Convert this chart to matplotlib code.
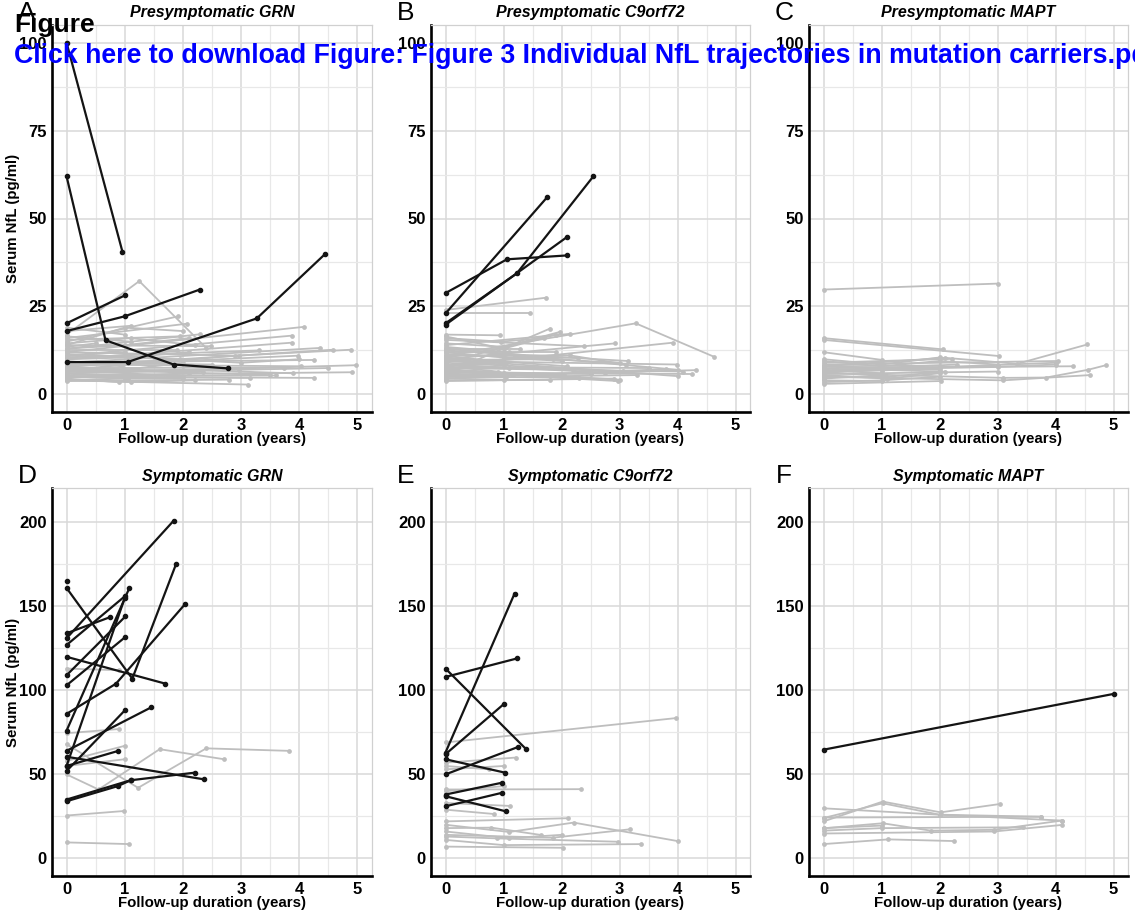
import matplotlib.pyplot as plt
from matplotlib.ticker import MultipleLocator

plt.rcParams['font.family'] = ['Liberation Sans', 'DejaVu Sans']

W, H = 1135, 918
GREY = "#bebebe"
DARK = "#141414"

# each trajectory: list of (follow-up years, serum NfL pg/ml)
grn_pre_dark = [
    [(0, 100), (0.96, 40.6)],
    [(0, 62), (0.67, 15.4), (1.84, 8.5), (2.77, 7.4)],
    [(0, 20.2), (1.01, 28.2)],
    [(0, 18), (1.0, 22.2), (2.29, 29.8)],
    [(0, 9.2), (1.05, 9.2), (3.27, 21.6), (4.45, 40)],
]
grn_pre_grey = [
    [(0, 17), (1.25, 32.2), (2.4, 13.2)],
    [(0, 15), (1.92, 22.2)],
    [(0, 16), (2.07, 20.1)],
    [(0, 14), (1.0, 19), (2.0, 18)],
    [(0, 13), (2.3, 17.1)],
    [(0, 12), (4.08, 19.2)],
    [(0, 11), (3.87, 16.7)],
    [(0, 10), (3.87, 14.7)],
    [(0, 9), (4.35, 13.2)],
    [(0, 8), (4.58, 12.7)],
    [(0, 7), (2.9, 11), (4.89, 12.7)],
    [(0, 6), (4.98, 8.3)],
    [(0, 5.5), (4.91, 6.3)],
    [(0, 5), (4.26, 4.7)],
    [(0, 4), (3.12, 2.8)],
    [(0, 5), (3.15, 4.7)],
    [(0, 12), (2.97, 11)],
    [(0, 9), (4.26, 9.8)],
    [(0, 8.5), (4.03, 8)],
    [(0, 7.5), (3.74, 7.6)],
    [(0, 14), (2.49, 13.7)],
    [(0, 19), (1.0, 17)],
    [(0, 18), (1.1, 19.5)],
    [(0, 16.5), (1.1, 15)],
    [(0, 13), (1.0, 14), (2.1, 16)],
    [(0, 11), (1.0, 12)],
    [(0, 10), (1.05, 10.5), (2.1, 12)],
    [(0, 9.5), (0.95, 8)],
    [(0, 8), (1.0, 7), (2.0, 9)],
    [(0, 7), (1.0, 6.5)],
    [(0, 6), (1.0, 5), (2.1, 6)],
    [(0, 5), (1.05, 4.5)],
    [(0, 4.5), (0.9, 3.5)],
    [(0, 4), (1.0, 4.5), (2.0, 4.5)],
    [(0, 3.8), (2.8, 4.2)],
    [(0, 11.5), (3.0, 9), (4.0, 10)],
    [(0, 6.5), (2.0, 7), (3.9, 6)],
    [(0, 7.2), (3.5, 5.5)],
    [(0, 9), (2.5, 8.5)],
    [(0, 12.5), (1.9, 12.5)],
    [(0, 15.5), (1.95, 16.5)],
    [(0, 6), (2.97, 7), (4.5, 7.5)],
    [(0, 5.2), (3.6, 5.4)],
    [(0, 10.5), (3.3, 12.5)],
    [(0, 8), (3.97, 11)],
    [(0, 13.5), (0.5, 14.5)],
    [(0, 11), (1.95, 10)],
    [(0, 9), (1.5, 9.5)],
    [(0, 7.5), (2.35, 6.5)],
    [(0, 6.8), (1.05, 6), (2.0, 5)],
    [(0, 14.5), (1.1, 16), (2.2, 14)],
    [(0, 4.2), (1.1, 3.5), (2.2, 4)],
]

c9_pre_dark = [
    [(0, 23), (1.75, 56)],
    [(0, 20.2), (1.23, 34.4), (2.55, 62)],
    [(0, 19.8), (2.1, 44.8)],
    [(0, 28.8), (1.06, 38.4), (2.09, 39.5)],
]
c9_pre_grey = [
    [(0, 24), (1.74, 27.5)],
    [(0, 23), (1.45, 23)],
    [(0, 11), (3.28, 20.2), (4.63, 10.7)],
    [(0, 8), (3.92, 14.7)],
    [(0, 10), (2.92, 14.5)],
    [(0, 6), (1.8, 18.7)],
    [(0, 9), (1.98, 17.8)],
    [(0, 14), (2.14, 17.2)],
    [(0, 17), (0.94, 16.8)],
    [(0, 16.5), (1.0, 13), (1.9, 17)],
    [(0, 15.5), (2.38, 13.7)],
    [(0, 13), (1.29, 13)],
    [(0, 12), (1.9, 12)],
    [(0, 7), (1.2, 10.7), (2.28, 10.4)],
    [(0, 12.5), (3.14, 9.5)],
    [(0, 11), (2.14, 11.1), (3.12, 8.5)],
    [(0, 9.5), (3.99, 8.5)],
    [(0, 5), (4.32, 6.9)],
    [(0, 7.5), (4.1, 6.5)],
    [(0, 10), (4.0, 5.2)],
    [(0, 6.5), (2.97, 3.8)],
    [(0, 8.5), (2.75, 6.2)],
    [(0, 4), (1.8, 4.1)],
    [(0, 5.5), (1.17, 5.4)],
    [(0, 9), (3.06, 6.6)],
    [(0, 4.5), (3.8, 7.2)],
    [(0, 16), (0.95, 15), (1.7, 16)],
    [(0, 14.5), (1.05, 13.5)],
    [(0, 13.5), (1.1, 12)],
    [(0, 12), (1.0, 10.5), (2.0, 9.5)],
    [(0, 11), (1.05, 9)],
    [(0, 10.5), (2.1, 8)],
    [(0, 9.5), (1.0, 8.5)],
    [(0, 8.5), (1.1, 7.5), (2.2, 7)],
    [(0, 8), (0.9, 6.5)],
    [(0, 7), (1.0, 6), (2.05, 5.5)],
    [(0, 6.5), (2.5, 5.8)],
    [(0, 6), (1.05, 5)],
    [(0, 5), (2.3, 4.8)],
    [(0, 4.5), (1.0, 4.2)],
    [(0, 3.8), (2.9, 4.5)],
    [(0, 7.8), (3.5, 7.5)],
    [(0, 9.8), (1.85, 10)],
    [(0, 11.5), (3.0, 9)],
    [(0, 5.8), (2.0, 5.2), (3.3, 5.5)],
    [(0, 7.2), (3.0, 4.2)],
    [(0, 13), (4.0, 7)],
    [(0, 6.2), (4.25, 5.8)],
]

mapt_pre_dark = []
mapt_pre_grey = [
    [(0, 29.8), (3.01, 31.5)],
    [(0, 16), (2.06, 12.8)],
    [(0, 15.5), (3.03, 10.9)],
    [(0, 12), (1.01, 9.8)],
    [(0, 10), (1.0, 8.5), (2.0, 10.5)],
    [(0, 8), (2.1, 10.4), (3.34, 8.7), (4.55, 14.2)],
    [(0, 9), (2.22, 10.1)],
    [(0, 6), (3.1, 4.7), (3.84, 4.8), (4.56, 7.0), (4.87, 8.3)],
    [(0, 5), (3.1, 4.0), (4.6, 5.5)],
    [(0, 7.5), (4.3, 8)],
    [(0, 8.5), (4.04, 9.5)],
    [(0, 6.5), (4.0, 9.0)],
    [(0, 9.5), (1.0, 8.0), (2.0, 9.5), (3.0, 8.5)],
    [(0, 3), (2.02, 3.8)],
    [(0, 4), (1.01, 3.8)],
    [(0, 5.5), (1.1, 4.5), (2.0, 6)],
    [(0, 6), (1.0, 7.5), (2.0, 7)],
    [(0, 7), (1.0, 6)],
    [(0, 4.5), (1.05, 5.5)],
    [(0, 5), (1.1, 5), (2.1, 6.5)],
    [(0, 6.8), (2.3, 8.5)],
    [(0, 8), (2.0, 8.2)],
    [(0, 5.8), (3.0, 6.5)],
    [(0, 6.3), (1.0, 6.8), (2.0, 7.5), (3.0, 7.8), (4.0, 8.5)],
    [(0, 3.5), (1.0, 4), (2.0, 5)],
    [(0, 7.3), (1.0, 7), (2.0, 6.5)],
]

grn_sym_dark = [
    [(0, 161), (1.13, 107), (1.88, 175)],
    [(0, 131), (1.84, 201)],
    [(0, 134), (0.74, 143.5)],
    [(0, 120), (1.7, 104)],
    [(0, 86), (0.85, 104), (2.04, 151.5)],
    [(0, 60.5), (2.37, 47)],
    [(0, 34), (0.88, 43), (1.1, 46.5), (2.2, 51)],
    [(0, 35), (1.1, 46.5)],
    [(0, 127), (1.0, 156)],
    [(0, 109), (1.01, 144)],
    [(0, 103), (1.0, 131.5)],
    [(0, 76), (1.08, 161)],
    [(0, 55), (1.0, 155)],
    [(0, 64), (1.46, 90)],
    [(0, 52), (1.01, 88.4)],
    [(0, 55), (0.89, 64)],
    [(0, 165)],
]
grn_sym_grey = [
    [(0, 113), (0.9, 112)],
    [(0, 74.5), (0.9, 77)],
    [(0, 68), (1.23, 42), (2.4, 65.5), (3.83, 64)],
    [(0, 50), (0.55, 41), (1.6, 65), (2.71, 59)],
    [(0, 58), (1.0, 67)],
    [(0, 55), (1.0, 59)],
    [(0, 25.5), (0.99, 28.2)],
    [(0, 9.5), (1.08, 8.5)],
]

c9_sym_dark = [
    [(0, 63), (1.19, 157.6)],
    [(0, 108), (1.23, 119)],
    [(0, 113), (1.39, 65)],
    [(0, 62), (1.01, 92)],
    [(0, 50), (1.25, 66.3)],
    [(0, 59), (1.03, 51)],
    [(0, 38), (0.97, 45)],
    [(0, 31), (0.97, 39)],
    [(0, 37), (1.04, 28)],
]
c9_sym_grey = [
    [(0, 69), (3.97, 83.5)],
    [(0, 57), (1.21, 60)],
    [(0, 55), (0.75, 53)],
    [(0, 53), (1.0, 55)],
    [(0, 41), (2.34, 41.2)],
    [(0, 40), (1.0, 43)],
    [(0, 33), (1.12, 31.2)],
    [(0, 29), (0.84, 26.4)],
    [(0, 22), (2.11, 23.9)],
    [(0, 20), (1.1, 15.7), (2.21, 21.3), (4.0, 10.3)],
    [(0, 18), (0.79, 18.3), (1.65, 13.9)],
    [(0, 14), (1.85, 12.3), (3.18, 17.3)],
    [(0, 13), (0.88, 11.9), (2.97, 9.9)],
    [(0, 11), (1.0, 7.9), (3.37, 8.5)],
    [(0, 7), (2.02, 6.3)],
    [(0, 16), (1.1, 12), (2.0, 14)],
]

mapt_sym_dark = [
    [(0, 64.7), (5.0, 97.9)],
]
mapt_sym_grey = [
    [(0, 29.8), (2.0, 26), (3.75, 24.8)],
    [(0, 22), (1.02, 33.8), (2.02, 27.4), (3.05, 32.4)],
    [(0, 24), (1.02, 32.8), (2.0, 26), (4.11, 22.5)],
    [(0, 24.3), (3.75, 24.8)],
    [(0, 17.9), (1.02, 20.9), (1.85, 16.5), (2.94, 17), (4.11, 22.5)],
    [(0, 16.5), (1.0, 18), (3.44, 18.5)],
    [(0, 14.8), (2.94, 16), (4.11, 19.9)],
    [(0, 8.5), (1.12, 11.3), (2.25, 10.3)],
    [(0, 18), (1.0, 19.5)],
]

panels = [
    ("A", "Presymptomatic GRN", grn_pre_grey, grn_pre_dark, True),
    ("B", "Presymptomatic C9orf72", c9_pre_grey, c9_pre_dark, True),
    ("C", "Presymptomatic MAPT", mapt_pre_grey, mapt_pre_dark, True),
    ("D", "Symptomatic GRN", grn_sym_grey, grn_sym_dark, False),
    ("E", "Symptomatic C9orf72", c9_sym_grey, c9_sym_dark, False),
    ("F", "Symptomatic MAPT", mapt_sym_grey, mapt_sym_dark, False),
]

# pixel boxes (left, top, right, bottom)
cols = [(52, 372), (431, 750), (809, 1128)]
rows = [(25, 412), (488, 876)]

fig = plt.figure(figsize=(W / 100, H / 100), dpi=100)

for i, (letter, title, grey, dark, top) in enumerate(panels):
    l, r = cols[i % 3]
    t, b = rows[i // 3]
    ax = fig.add_axes([l / W, 1 - b / H, (r - l) / W, (b - t) / H])

    for traj in grey:
        xs, ys = zip(*traj)
        ax.plot(xs, ys, color=GREY, lw=1.3, marker="o", ms=2.4, zorder=2)
    for traj in dark:
        xs, ys = zip(*traj)
        ax.plot(xs, ys, color=DARK, lw=1.6, marker="o", ms=3.0, zorder=3)

    ax.set_xlim(-0.25, 5.25)
    ax.xaxis.set_major_locator(MultipleLocator(1))
    ax.xaxis.set_minor_locator(MultipleLocator(0.5))
    if top:
        ax.set_ylim(-5, 105)
        ax.yaxis.set_major_locator(MultipleLocator(25))
        ax.yaxis.set_minor_locator(MultipleLocator(12.5))
    else:
        ax.set_ylim(-10.5, 220.5)
        ax.yaxis.set_major_locator(MultipleLocator(50))
        ax.yaxis.set_minor_locator(MultipleLocator(25))

    ax.set_axisbelow(True)
    ax.grid(which="major", color="#d9d9d9", lw=1.1)
    ax.grid(which="minor", color="#e8e8e8", lw=0.9)
    ax.tick_params(which="both", length=0, labelsize=12, pad=4)
    for lab in ax.get_xticklabels() + ax.get_yticklabels():
        lab.set_fontweight("bold")

    for side in ("top", "right"):
        ax.spines[side].set_color("#d0d0d0")
        ax.spines[side].set_linewidth(0.9)
    for side in ("left", "bottom"):
        ax.spines[side].set_color("black")
        ax.spines[side].set_linewidth(1.9)

    hgt = b - t
    ax.set_xlabel("Follow-up duration (years)", fontsize=10.8, fontweight="bold")
    ax.xaxis.set_label_coords(0.5, -27 / hgt)
    ax.xaxis.label.set_va("center")
    if i % 3 == 0:
        ax.set_ylabel("Serum NfL (pg/ml)", fontsize=10.8, fontweight="bold")
        ax.yaxis.set_label_coords(-39 / (r - l), 0.5)
        ax.yaxis.label.set_va("center")

    ax.text(0.5, 1 + 12 / hgt, title, transform=ax.transAxes, ha="center", va="center",
            fontsize=11.5, fontweight="bold", fontstyle="italic")
    fig.text((l - 25) / W, 1 - (t - 12) / H, letter, ha="center", va="center", fontsize=19)

fig.text(14 / W, 1 - 32 / H, "Figure", ha="left", va="baseline",
         fontsize=19, fontweight="bold", color="black")
fig.text(14 / W, 1 - 63 / H,
         "Click here to download Figure: Figure 3 Individual NfL trajectories in mutation carriers.pdf",
         ha="left", va="baseline", fontsize=19.3, fontweight="bold", color="#0000ff")

fig.savefig("out.png", dpi=100)
